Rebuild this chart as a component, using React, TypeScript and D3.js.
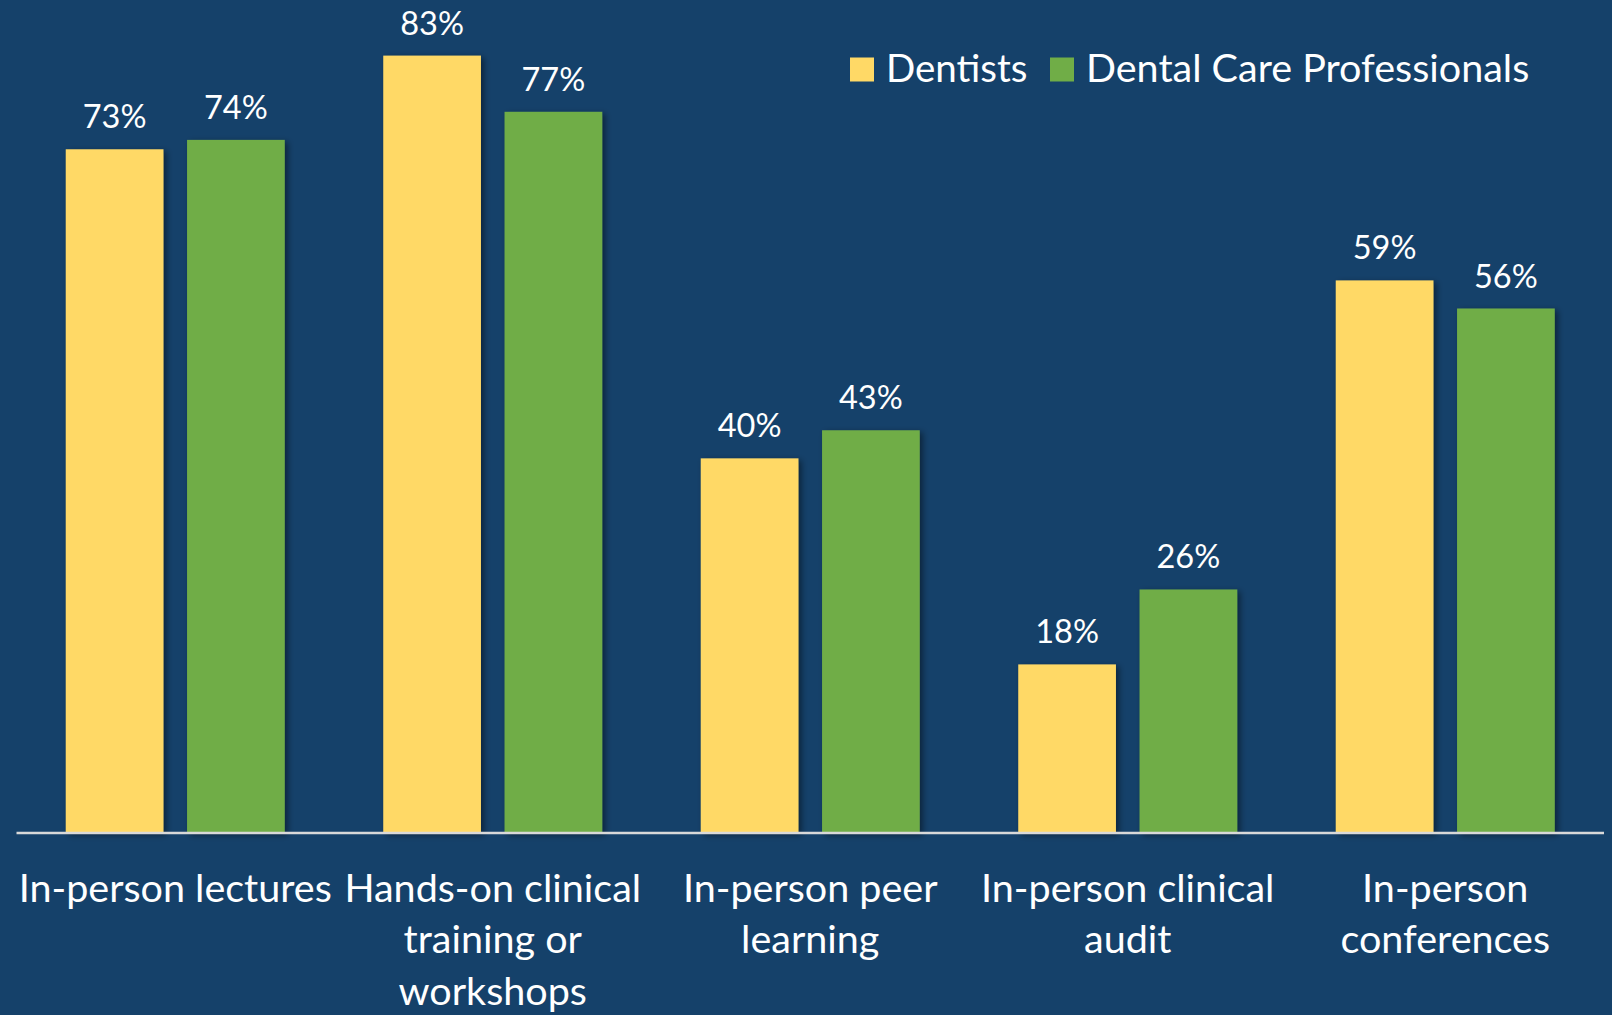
import React from "react";
import * as d3 from "d3";

const categories = [
  "In-person lectures",
  "Hands-on clinical training or workshops",
  "In-person peer learning",
  "In-person clinical audit",
  "In-person conferences",
];
const categoryLines = [
  ["In-person lectures"],
  ["Hands-on clinical", "training or", "workshops"],
  ["In-person peer", "learning"],
  ["In-person clinical", "audit"],
  ["In-person", "conferences"],
];
const seriesNames = ["Dentists", "Dental Care Professionals"];
const dentists = [73, 83, 40, 18, 59];
const dentalCareProfessionals = [74, 77, 43, 26, 56];
const seriesColors = ["#FFD966", "#70AD47"];

const W = 1612;
const H = 1015;
const BG = "#15416A";
const FONT = "Lato, 'Open Sans', sans-serif";

export default function App() {
  const values = [dentists, dentalCareProfessionals];
  const x0 = d3.scaleBand<string>().domain(categories).range([16.5, 1604]).padding(0);
  const bw = x0.bandwidth();
  const x1 = d3
    .scaleBand<string>()
    .domain(seriesNames)
    .range([(bw - 219) / 2, (bw + 219) / 2])
    .paddingInner(23.6 / 121.3)
    .paddingOuter(0);
  const y = d3.scaleLinear().domain([0, 100]).range([833, 833 - 936.6]);

  return (
    <svg
      width={W}
      height={H}
      style={{ position: "absolute", left: 0, top: 0, display: "block" }}
      fontFamily={FONT}
    >
      <defs>
        <filter id="shadow" x="-20%" y="-20%" width="140%" height="140%">
          <feDropShadow dx="3" dy="2" stdDeviation="3" floodColor="#000" floodOpacity="0.45" />
        </filter>
      </defs>
      <rect x={0} y={0} width={W} height={H} fill={BG} />
      {categories.map((c, i) => (
        <g key={c} transform={`translate(${x0(c)},0)`}>
          {seriesNames.map((s, j) => {
            const v = values[j][i];
            const bx = x1(s)!;
            return (
              <g key={s}>
                <rect
                  x={bx}
                  y={y(v)}
                  width={x1.bandwidth()}
                  height={y(0) - y(v)}
                  fill={seriesColors[j]}
                  filter="url(#shadow)"
                />
                <text
                  x={bx + x1.bandwidth() / 2}
                  y={y(v) - 21}
                  textAnchor="middle"
                  fill="#fff"
                  fontSize={32.5}
                >
                  {v}%
                </text>
              </g>
            );
          })}
          {categoryLines[i].map((ln, k) => (
            <text
              key={k}
              x={bw / 2}
              y={902 + k * 51.4}
              textAnchor="middle"
              fill="#fff"
              fontSize={39.5}
            >
              {ln}
            </text>
          ))}
        </g>
      ))}
      <line x1={16.5} x2={1604} y1={y(0)} y2={y(0)} stroke="#D9D9D9" strokeWidth={2.5} />
      <g>
        <rect x={850} y={57.5} width={24} height={24} fill={seriesColors[0]} />
        <text x={886} y={82} fill="#fff" fontSize={38.5}>
          {seriesNames[0]}
        </text>
        <rect x={1050} y={57.5} width={24} height={24} fill={seriesColors[1]} />
        <text x={1086} y={82} fill="#fff" fontSize={39.5}>
          {seriesNames[1]}
        </text>
      </g>
    </svg>
  );
}
